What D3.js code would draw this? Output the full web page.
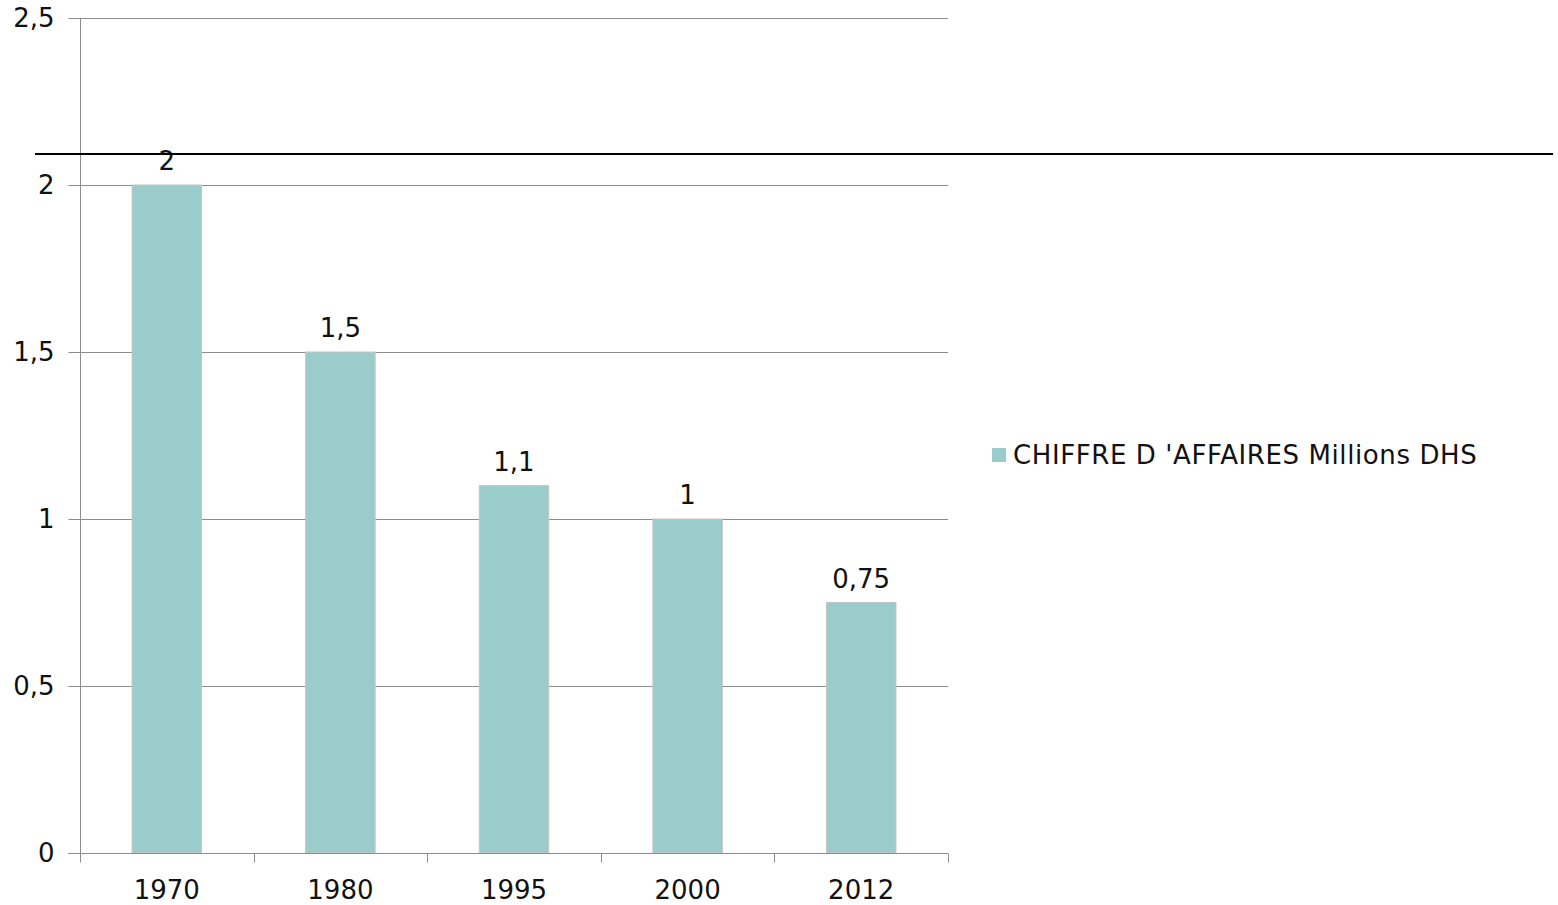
<!DOCTYPE html>
<html lang="fr">
<head>
<meta charset="UTF-8">
<title>Chiffre d'affaires</title>
<script src="https://d3js.org/d3.v7.min.js"></script>
<style>
    body { margin: 0; background: #fff; }
    svg text { font-family: "DejaVu Sans", Verdana, sans-serif; fill: #111; }
</style>
</head>
<body>
<div id="chart"></div>
<script>
    // data
    var years = ["1970", "1980", "1995", "2000", "2012"];
    var values = [2, 1.5, 1.1, 1, 0.75];
    var yTicks = [0, 0.5, 1, 1.5, 2, 2.5];
    var seriesName = "CHIFFRE D 'AFFAIRES Millions DHS";

    var width = 1558, height = 905;
    var margin = { top: 18, right: 610, bottom: 52, left: 80 };
    var fontSize = 26;

    var svg = d3.select("#chart").append("svg")
        .attr("width", width)
        .attr("height", height);

    var x = d3.scaleBand()
        .domain(years)
        .range([margin.left, width - margin.right])
        .paddingInner(0.6)
        .paddingOuter(0.3);

    var y = d3.scaleLinear()
        .domain([0, 2.5])
        .range([height - margin.bottom, margin.top]);

    var fmt = function (d) { return String(d).replace(".", ","); };

    // grid lines
    svg.append("g")
        .selectAll("line")
        .data(yTicks.slice(1))
        .enter().append("line")
        .attr("x1", margin.left)
        .attr("x2", width - margin.right)
        .attr("y1", d => Math.round(y(d)) + 0.5)
        .attr("y2", d => Math.round(y(d)) + 0.5)
        .attr("stroke", "#8c8c8c")
        .attr("stroke-width", 1);

    // bars
    svg.append("g")
        .selectAll("rect")
        .data(values)
        .enter().append("rect")
        .attr("x", (d, i) => x(years[i]))
        .attr("y", d => y(d))
        .attr("width", x.bandwidth())
        .attr("height", d => y(0) - y(d))
        .attr("fill", "#9bcccc")
        .attr("stroke", "#c4c4c4")
        .attr("stroke-width", 1);

    // y axis
    var yAxis = svg.append("g")
        .attr("transform", "translate(" + (margin.left + 0.5) + ",0)")
        .call(d3.axisLeft(y).tickValues(yTicks).tickFormat(fmt).tickSize(12).tickPadding(14));
    yAxis.select(".domain").attr("stroke", "#8c8c8c").attr("d", "M0," + y(0) + "V" + y(2.5));
    yAxis.selectAll(".tick line").attr("stroke", "#8c8c8c");
    yAxis.selectAll(".tick text").attr("font-size", fontSize).style("font-family", "DejaVu Sans, Verdana, sans-serif").attr("fill", "#111");

    // x axis, ticks between categories
    var xAxisG = svg.append("g")
        .attr("transform", "translate(0," + (Math.round(y(0)) + 0.5) + ")");
    xAxisG.append("line")
        .attr("x1", margin.left - 12)
        .attr("x2", width - margin.right)
        .attr("stroke", "#8c8c8c");
    var bounds = d3.range(years.length + 1).map(i => margin.left + i * x.step());
    xAxisG.selectAll(".xt")
        .data(bounds)
        .enter().append("line")
        .attr("class", "xt")
        .attr("x1", d => Math.round(d) + 0.5)
        .attr("x2", d => Math.round(d) + 0.5)
        .attr("y1", 0)
        .attr("y2", 9)
        .attr("stroke", "#8c8c8c");
    xAxisG.selectAll(".xl")
        .data(years)
        .enter().append("text")
        .attr("class", "xl")
        .attr("x", d => x(d) + x.bandwidth() / 2)
        .attr("y", 45)
        .attr("text-anchor", "middle")
        .attr("font-size", fontSize)
        .text(d => d);

    // value labels
    svg.append("g")
        .selectAll("text")
        .data(values)
        .enter().append("text")
        .attr("x", (d, i) => x(years[i]) + x.bandwidth() / 2)
        .attr("y", d => y(d) - 15)
        .attr("text-anchor", "middle")
        .attr("font-size", fontSize)
        .text(fmt);

    // legend
    var legend = svg.append("g").attr("transform", "translate(992,448)");
    legend.append("rect")
        .attr("width", 14)
        .attr("height", 14)
        .attr("fill", "#9bcccc");
    legend.append("text")
        .attr("x", 21)
        .attr("y", 16)
        .attr("font-size", fontSize)
        .attr("letter-spacing", 0.6)
        .text(seriesName);

    // black horizontal line across the picture
    svg.append("line")
        .attr("x1", 35)
        .attr("x2", 1553)
        .attr("y1", 154)
        .attr("y2", 154)
        .attr("stroke", "#000")
        .attr("stroke-width", 2);
</script>
</body>
</html>
